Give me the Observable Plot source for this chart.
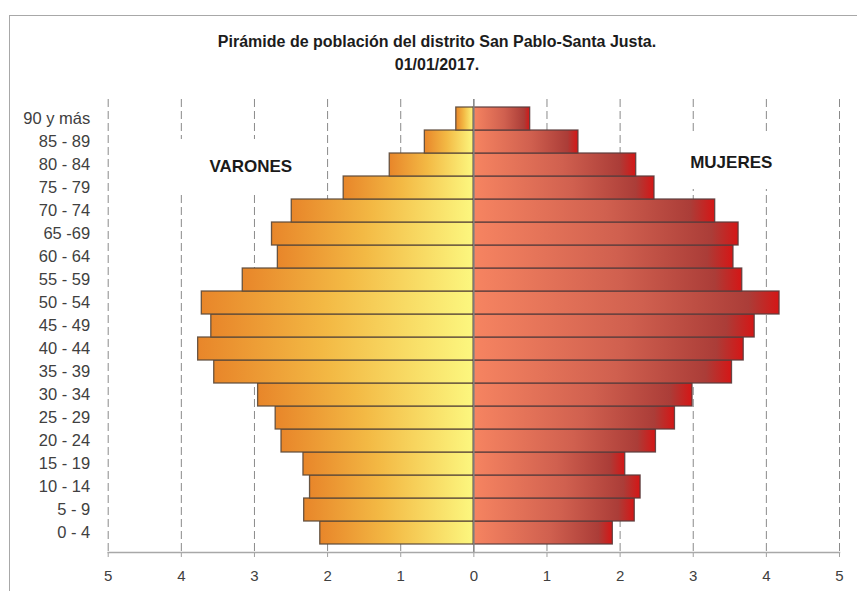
<!DOCTYPE html>
<html>
<head>
<meta charset="utf-8">
<script src="https://cdn.jsdelivr.net/npm/d3@7"></script>
<script src="https://cdn.jsdelivr.net/npm/@observablehq/plot@0.6"></script>
<style>
  html, body { margin: 0; padding: 0; background: #fff; }
  #wrap { position: relative; width: 857px; height: 591px; overflow: hidden; font-family: "Liberation Sans", Arial, sans-serif; }
  #frame { position: absolute; left: 9px; top: 15px; width: 860px; height: 600px; border-top: 1.5px solid #a8a8a8; border-left: 1.5px solid #a8a8a8; }
  #title { position: absolute; left: 0; top: 30px; width: 874px; text-align: center; font-weight: bold; font-size: 16px; line-height: 23px; color: #1c1c1c; }
  #chart { position: absolute; left: 0; top: 90px; }
</style>
</head>
<body>
<div id="wrap">
  <div id="frame"></div>
  <div id="title">Pirámide de población del distrito San Pablo-Santa Justa.<br>01/01/2017.</div>
  <div id="chart"></div>
</div>
<script>
// Age groups (bottom to top)
const ageGroups = ["0 - 4","5 - 9","10 - 14","15 - 19","20 - 24","25 - 29","30 - 34","35 - 39","40 - 44","45 - 49","50 - 54","55 - 59","60 - 64","65 -69","70 - 74","75 - 79","80 - 84","85 - 89","90 y más"];
// Percent of population, males (VARONES)
const varones = [2.10, 2.32, 2.24, 2.33, 2.63, 2.71, 2.95, 3.55, 3.77, 3.59, 3.72, 3.16, 2.68, 2.76, 2.49, 1.78, 1.15, 0.67, 0.24];
// Percent of population, females (MUJERES)
const mujeres = [1.90, 2.20, 2.28, 2.07, 2.49, 2.75, 2.99, 3.53, 3.69, 3.84, 4.18, 3.67, 3.55, 3.62, 3.30, 2.47, 2.22, 1.43, 0.77];
const xTicks = [-5,-4,-3,-2,-1,0,1,2,3,4,5];
const gridTicks = [-5,-4,-3,-2,-1,1,2,3,4,5];
const sexLabels = ["VARONES", "MUJERES"];

const rows = ageGroups.map((a, i) => ({age: a, m: varones[i], f: mujeres[i]}));
const yDomain = ageGroups.slice().reverse();

const plot = Plot.plot({
  width: 857,
  height: 501,
  marginLeft: 107.7,
  marginRight: 18,
  marginTop: 9,
  marginBottom: 39,
  style: {fontFamily: "'Liberation Sans', Arial, sans-serif", color: "#404040", background: "transparent"},
  x: {domain: [-5, 5]},
  y: {domain: yDomain, padding: 0},
  marks: [
    Plot.ruleX(gridTicks, {stroke: "#8a8a8a", strokeWidth: 1, strokeDasharray: "8,4"}),
    // white boxes behind the sex labels
    Plot.barX([sexLabels[0]], {x1: () => -4.5, x2: () => -2.2, y: () => "80 - 84", fill: "white", insetTop: -14, insetBottom: -18}),
    Plot.barX([sexLabels[1]], {x1: () => 2.3, x2: () => 4.8, y: () => "80 - 84", fill: "white", insetTop: -21, insetBottom: -13}),
    Plot.barX(rows, {x1: () => 0, x2: d => -d.m, y: "age", fill: "url(#gradM)", stroke: "#5a4838", strokeWidth: 1.3, strokeOpacity: 0.9}),
    Plot.barX(rows, {x1: () => 0, x2: d => d.f, y: "age", fill: "url(#gradF)", stroke: "#5a3c3c", strokeWidth: 1.3, strokeOpacity: 0.9}),
    Plot.ruleX([0], {stroke: "#808080", strokeWidth: 1.5}),
    Plot.text([sexLabels[0]], {x: () => -3.05, y: () => "80 - 84", text: d => d, fontWeight: "bold", fontSize: 17, fill: "#1a1a1a", dy: 2}),
    Plot.text([sexLabels[1]], {x: () => 3.52, y: () => "80 - 84", text: d => d, fontWeight: "bold", fontSize: 17, fill: "#1a1a1a", dy: -2}),
    Plot.axisY({tickSize: 0, tickPadding: 18, fontSize: 16.5, label: null, anchor: "left"}),
    Plot.axisX({ticks: xTicks, tickFormat: d => Math.abs(d), tickSize: 5, tickPadding: 13, fontSize: 15, stroke: "#a0a0a0", label: null}),
    Plot.frame({anchor: "bottom", stroke: "#a8a8a8", strokeWidth: 1.5})
  ]
});

// gradients
const ns = "http://www.w3.org/2000/svg";
const defs = document.createElementNS(ns, "defs");
function grad(id, stops) {
  const g = document.createElementNS(ns, "linearGradient");
  g.setAttribute("id", id);
  g.setAttribute("x1", "0"); g.setAttribute("x2", "1");
  g.setAttribute("y1", "0"); g.setAttribute("y2", "0");
  for (const [o, c] of stops) {
    const s = document.createElementNS(ns, "stop");
    s.setAttribute("offset", o);
    s.setAttribute("stop-color", c);
    g.appendChild(s);
  }
  defs.appendChild(g);
}
grad("gradM", [[0, "#e8862a"], [0.45, "#f3b944"], [1, "#fcf77f"]]);
grad("gradF", [[0, "#f68461"], [0.55, "#d0604f"], [0.9, "#ab3d38"], [1, "#d51616"]]);
plot.insertBefore(defs, plot.firstChild);

document.getElementById("chart").appendChild(plot);
</script>
</body>
</html>
